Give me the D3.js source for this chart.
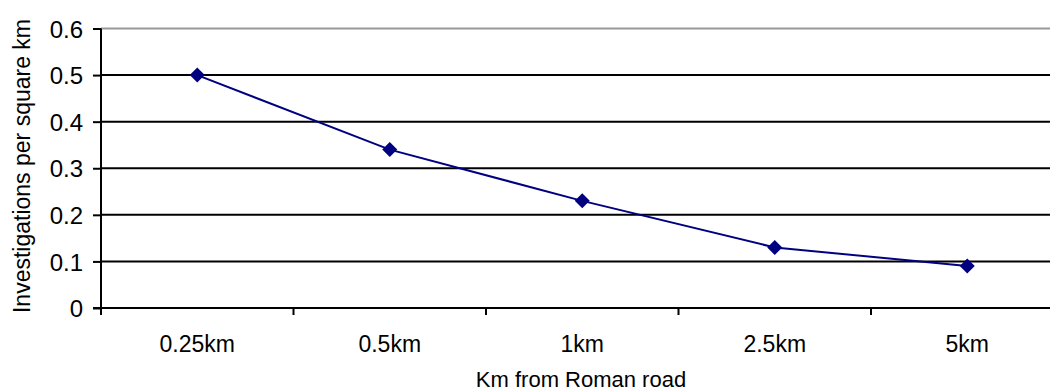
<!DOCTYPE html>
<html><head><meta charset="utf-8">
<script src="https://cdn.jsdelivr.net/npm/d3@7"></script>
<style>body{margin:0;background:#fff;}svg{display:block;font-family:"Liberation Sans",Arial,sans-serif;}</style>
</head><body>
<svg id="c" width="1050" height="392"></svg>
<script>
const categories = ["0.25km","0.5km","1km","2.5km","5km"];
const values = [0.5,0.34,0.23,0.13,0.09];
const yTicks = [0,0.1,0.2,0.3,0.4,0.5,0.6];

const svg = d3.select("#c");
const FONT = "Liberation Sans, Arial, sans-serif";
const mLeft = 101, mTop = 28.5, mBottom = 308, mRight = 101 + 5*192.5;
const x = d3.scaleBand().domain(categories).range([mLeft, mRight]);
const y = d3.scaleLinear().domain([0,0.6]).range([mBottom, mTop]);

// gridlines
svg.append("g").selectAll("line").data(yTicks.filter(d=>d>0)).join("line")
  .attr("x1", mLeft).attr("x2", mRight)
  .attr("y1", d=>y(d)).attr("y2", d=>y(d))
  .attr("stroke", d=> d===0.6 ? "#999" : "#000").attr("stroke-width", 2);

// y axis
const ya = svg.append("g").attr("transform",`translate(${mLeft},0)`)
  .call(d3.axisLeft(y).tickValues(yTicks).tickFormat(d=>d===0?"0":d3.format(".1f")(d)).tickSize(8).tickPadding(10));
ya.attr("font-size",null).attr("font-family",null);
ya.select(".domain").attr("stroke","#000").attr("stroke-width",2).attr("d",`M0,${mTop}V${mBottom}`);
ya.selectAll(".tick line").attr("stroke","#000").attr("stroke-width",2);
ya.selectAll("text").style("font-size","24px").attr("fill","#000").style("font-family",FONT).attr("dy","0.36em");

// x axis
const xa = svg.append("g").attr("transform",`translate(0,${mBottom})`)
  .call(d3.axisBottom(x).tickSize(0));
xa.attr("font-size",null).attr("font-family",null);
xa.select(".domain").remove();
xa.selectAll("text").style("font-size","23px").attr("fill","#000").style("font-family",FONT).attr("y",44).attr("dy",0);
svg.append("line").attr("x1",mLeft-8).attr("x2",1050).attr("y1",mBottom).attr("y2",mBottom).attr("stroke","#000").attr("stroke-width",2);
svg.append("g").selectAll("line").data(d3.range(categories.length+1)).join("line")
  .attr("x1", i=>mLeft + i*x.step()).attr("x2", i=>mLeft + i*x.step())
  .attr("y1", mBottom).attr("y2", mBottom+7).attr("stroke","#000").attr("stroke-width",2);

// line
const line = d3.line().x((d,i)=>x(categories[i])+x.bandwidth()/2).y(d=>y(d));
svg.append("path").datum(values).attr("d",line).attr("fill","none").attr("stroke","#000080").attr("stroke-width",2);
svg.append("g").selectAll("path").data(values).join("path")
  .attr("transform",(d,i)=>`translate(${x(categories[i])+x.bandwidth()/2},${y(d)})`)
  .attr("d","M0,-7.5L7.5,0L0,7.5L-7.5,0Z").attr("fill","#000080");

// titles
svg.append("text").attr("x", 581).attr("y", 387).attr("text-anchor","middle").style("font-size","22px").style("font-family",FONT).text("Km from Roman road");
svg.append("text").attr("transform","translate(30,166) rotate(-90)").attr("text-anchor","middle").style("font-size","23px").style("font-family",FONT).text("Investigations per square km");
</script>
</body></html>
